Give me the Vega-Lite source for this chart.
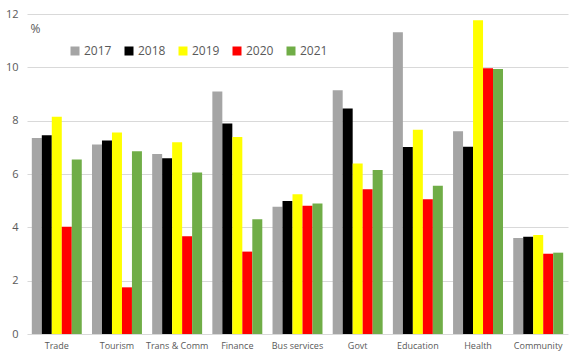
{
  "$schema": "https://vega.github.io/schema/vega-lite/v6.json",
  "width": 541,
  "height": 320,
  "autosize": {"type": "none"},
  "padding": {"left": 27, "top": 14, "right": 15, "bottom": 19},
  "background": "white",
  "config": {
    "view": {"stroke": null},
    "font": "Open Sans",
    "axis": {"labelColor": "#595959", "titleColor": "#595959"}
  },
  "data": {
    "values": [
      {"sector": "Trade", "year": "2017", "value": 7.35},
      {"sector": "Trade", "year": "2018", "value": 7.45},
      {"sector": "Trade", "year": "2019", "value": 8.15},
      {"sector": "Trade", "year": "2020", "value": 4.02},
      {"sector": "Trade", "year": "2021", "value": 6.54},
      {"sector": "Tourism", "year": "2017", "value": 7.11},
      {"sector": "Tourism", "year": "2018", "value": 7.26},
      {"sector": "Tourism", "year": "2019", "value": 7.56},
      {"sector": "Tourism", "year": "2020", "value": 1.75},
      {"sector": "Tourism", "year": "2021", "value": 6.85},
      {"sector": "Trans & Comm", "year": "2017", "value": 6.75},
      {"sector": "Trans & Comm", "year": "2018", "value": 6.59},
      {"sector": "Trans & Comm", "year": "2019", "value": 7.19},
      {"sector": "Trans & Comm", "year": "2020", "value": 3.67},
      {"sector": "Trans & Comm", "year": "2021", "value": 6.06},
      {"sector": "Finance", "year": "2017", "value": 9.09},
      {"sector": "Finance", "year": "2018", "value": 7.89},
      {"sector": "Finance", "year": "2019", "value": 7.39},
      {"sector": "Finance", "year": "2020", "value": 3.09},
      {"sector": "Finance", "year": "2021", "value": 4.3},
      {"sector": "Bus services", "year": "2017", "value": 4.77},
      {"sector": "Bus services", "year": "2018", "value": 4.99},
      {"sector": "Bus services", "year": "2019", "value": 5.24},
      {"sector": "Bus services", "year": "2020", "value": 4.81},
      {"sector": "Bus services", "year": "2021", "value": 4.89},
      {"sector": "Govt", "year": "2017", "value": 9.14},
      {"sector": "Govt", "year": "2018", "value": 8.46},
      {"sector": "Govt", "year": "2019", "value": 6.39},
      {"sector": "Govt", "year": "2020", "value": 5.43},
      {"sector": "Govt", "year": "2021", "value": 6.15},
      {"sector": "Education", "year": "2017", "value": 11.32},
      {"sector": "Education", "year": "2018", "value": 7.01},
      {"sector": "Education", "year": "2019", "value": 7.66},
      {"sector": "Education", "year": "2020", "value": 5.05},
      {"sector": "Education", "year": "2021", "value": 5.56},
      {"sector": "Health", "year": "2017", "value": 7.6},
      {"sector": "Health", "year": "2018", "value": 7.02},
      {"sector": "Health", "year": "2019", "value": 11.77},
      {"sector": "Health", "year": "2020", "value": 9.97},
      {"sector": "Health", "year": "2021", "value": 9.94},
      {"sector": "Community", "year": "2017", "value": 3.6},
      {"sector": "Community", "year": "2018", "value": 3.65},
      {"sector": "Community", "year": "2019", "value": 3.71},
      {"sector": "Community", "year": "2020", "value": 3.01},
      {"sector": "Community", "year": "2021", "value": 3.05}
    ]
  },
  "mark": {"type": "bar"},
  "encoding": {
    "x": {
      "field": "sector",
      "type": "nominal",
      "sort": null,
      "scale": {"paddingInner": 0.17, "paddingOuter": 0.08},
      "axis": {
        "title": null,
        "labelAngle": 0,
        "labelFontSize": 9,
        "ticks": false,
        "domain": false,
        "labelPadding": 7
      }
    },
    "xOffset": {"field": "year", "type": "nominal", "scale": {"paddingInner": 0, "paddingOuter": 0}},
    "y": {
      "field": "value",
      "type": "quantitative",
      "scale": {"domain": [0, 12], "nice": false},
      "axis": {
        "values": [0, 2, 4, 6, 8, 10, 12],
        "title": "%",
        "titleAngle": 0,
        "titleX": 3,
        "titleY": 14,
        "titleAlign": "left",
        "titleBaseline": "middle",
        "titleFontSize": 12,
        "titleFontWeight": "normal",
        "labelFontSize": 11,
        "labelPadding": 9,
        "ticks": false,
        "domain": false,
        "gridColor": "#D9D9D9",
        "gridWidth": 1
      }
    },
    "color": {
      "field": "year",
      "type": "nominal",
      "scale": {
        "domain": ["2017", "2018", "2019", "2020", "2021"],
        "range": ["#A5A5A5", "#000000", "#FFFF00", "#FF0000", "#70AD47"]
      },
      "legend": {
        "title": null,
        "orient": "none",
        "legendX": 42,
        "legendY": 31,
        "direction": "horizontal",
        "columns": 5,
        "symbolType": "square",
        "symbolSize": 81,
        "symbolStrokeWidth": 0,
        "labelFontSize": 12,
        "labelColor": "#595959",
        "labelOffset": 3,
        "columnPadding": 11
      }
    }
  }
}
